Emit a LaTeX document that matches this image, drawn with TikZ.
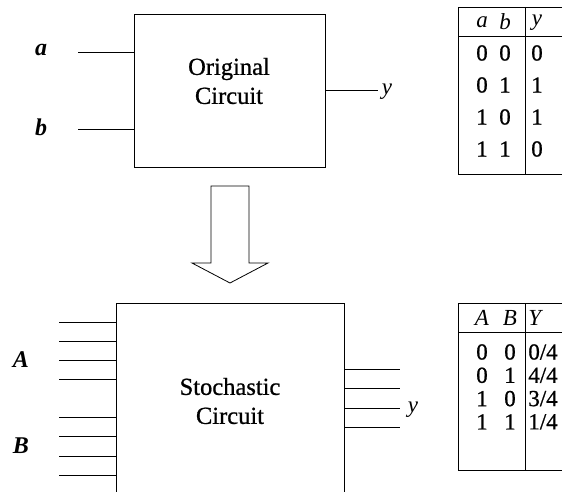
\documentclass[tikz,border=0pt]{standalone}
\usepackage{fontspec}
\setmainfont{Liberation Serif}
\newfontfamily\heavyserif{Liberation Serif}[FakeBold=0.8]
\begin{document}
\begin{tikzpicture}[x=1pt,y=-1pt,line width=0.7pt,
  box/.style={draw,inner sep=0pt},
  lbl/.style={font=\fontsize{24}{26}\selectfont\itshape\bfseries,inner sep=0pt},
  btxt/.style={font=\heavyserif\fontsize{24.5}{29}\selectfont,align=center,inner sep=0pt},
  cell/.style={font=\heavyserif\fontsize{23}{26}\selectfont,inner sep=0pt},
  icell/.style={font=\fontsize{23}{26}\selectfont\itshape,inner sep=0pt},
  bigarrow/.style={draw,line width=0.8pt,fill=white}]
\useasboundingbox (0,0) rectangle (562,492);

% ---------- original circuit ----------
\node[box,minimum width=191pt,minimum height=153pt] (orig) at (229.5,90.5) {};
\node[btxt] (origtxt) at (229,81) {Original\\Circuit};
\coordinate (ain) at (78,52);
\coordinate (bin) at (78,129);
\coordinate (yout) at (378,90);
\node[lbl] (la) at (41,50) {a};
\node[lbl] (lb) at (41,127) {b};
\node[icell] (ly) at (387,92) {y};
\draw (ain) -- (ain -| orig.west);
\draw (bin) -- (bin -| orig.west);
\draw (yout -| orig.east) -- (yout);

% truth table top
\coordinate (t1tl) at (458,7);
\coordinate (t1bl) at (458,174);
\draw (570,7) -- (t1tl) -- (t1bl) -- (570,174);
\draw (458,36) -- (570,36);
\draw (525,7) -- (525,174);
\node[icell] (ha) at (482,22) {a};
\node[icell] (hb) at (505,22) {b};
\node[icell] (hy) at (537,23) {y};
\foreach \r/\aa/\bb/\yy in {0/0/0/0,1/0/1/1,2/1/0/1,3/1/1/0}{
  \node[cell] (ra\r) at (482,53+32*\r) {\aa};
  \node[cell] (rb\r) at (505,53+32*\r) {\bb};
  \node[cell] (ry\r) at (537,53+32*\r) {\yy};
}

% ---------- arrow ----------
\draw[bigarrow] (211,186) -- (249,186) -- (249,263) -- (268,263) -- (230,283) -- (192,263) -- (211,263) -- cycle;

% ---------- stochastic circuit ----------
\node[box,minimum width=228pt,minimum height=220pt,anchor=north west] (stoch) at (116,303) {};
\node[btxt] (stochtxt) at (230,401) {Stochastic\\Circuit};
\foreach \yy [count=\i] in {322,341,360,379,417,436,456,475}{
  \coordinate (in\i) at (59,\yy);
  \draw (in\i) -- (in\i -| stoch.west);
}
\foreach \yy [count=\i] in {369,388,408,427}{
  \coordinate (out\i) at (400,\yy);
  \draw (out\i -| stoch.east) -- (out\i);
}
\node[lbl] (lA) at (21,360) {A};
\node[lbl] (lB) at (21,446) {B};
\node[icell] (lY) at (413,410) {y};

% truth table bottom
\draw (570,303) -- (458,303) -- (458,470) -- (570,470);
\draw (458,332) -- (570,332);
\draw (525,303) -- (525,470);
\node[icell] (hA) at (482,318) {A};
\node[icell] (hB) at (510,318) {B};
\node[icell,anchor=west] (hY) at (528,318) {Y};
\foreach \r/\aa/\bb/\yy in {0/0/0/0\slash4,1/0/1/4\slash4,2/1/0/3\slash4,3/1/1/1\slash4}{
  \node[cell] (rA\r) at (482,352+23.3*\r) {\aa};
  \node[cell] (rB\r) at (510,352+23.3*\r) {\bb};
  \node[cell,anchor=west] (rY\r) at (528,352+23.3*\r) {\yy};
}
\end{tikzpicture}
\end{document}
